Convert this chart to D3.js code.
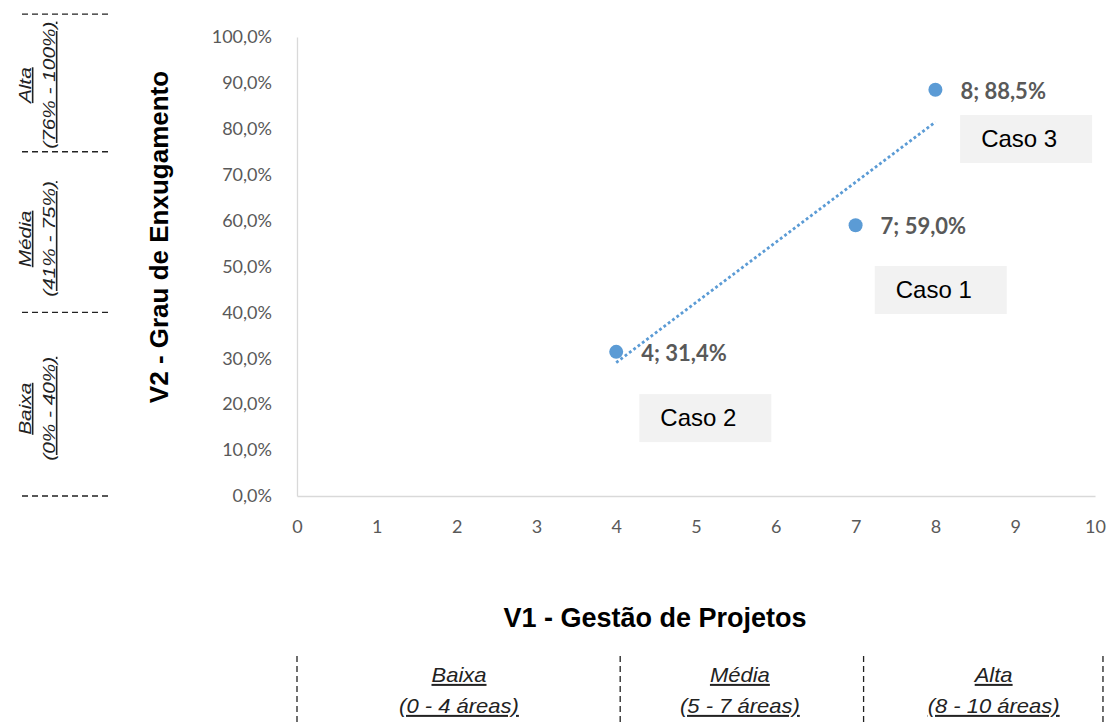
<!DOCTYPE html>
<html>
<head>
<meta charset="utf-8">
<script src="https://cdn.jsdelivr.net/npm/d3@7"></script>
<style>
  body { margin: 0; background: #fff; }
  svg { display: block; }
</style>
</head>
<body>
<svg id="chart"></svg>
<script>
// dados do gráfico
let xValues = [4, 7, 8];
let yValues = [0.314, 0.590, 0.885];
let pointLabels = ['4; 31,4%', '7; 59,0%', '8; 88,5%'];
let xTicks = [0, 1, 2, 3, 4, 5, 6, 7, 8, 9, 10];
let yTicks = [0, 0.1, 0.2, 0.3, 0.4, 0.5, 0.6, 0.7, 0.8, 0.9, 1.0];

// caixas "Caso" (canto superior esquerdo, em unidades do gráfico)
let casoLabels = ['Caso 1', 'Caso 2', 'Caso 3'];
let casoX = [7.24, 4.29, 8.31];
let casoY = [0.501, 0.222, 0.830];

// faixas do eixo V2 (esquerda)
let yBandEdges = [0, 0.40, 0.75, 1.05];
let yBandNames = ['Baixa', 'Média', 'Alta'];
let yBandRanges = ['(0% - 40%)', '(41% - 75%)', '(76% - 100%)'];
let yBandLabelAt = [0.19, 0.56, 0.895];

// faixas do eixo V1 (baixo)
let xBandEdges = [0, 4.05, 7.1, 10.1];
let xBandNames = ['Baixa', 'Média', 'Alta'];
let xBandRanges = ['(0 - 4 áreas)', '(5 - 7 áreas)', '(8 - 10 áreas)'];
let xBandLabelAt = [2.03, 5.55, 8.73];

let svgWidth = 1111, svgHeight = 724;
let plotLeft = 297, plotRight = 1095, plotTop = 37, plotBottom = 496;
let blue = '#5b9bd5';
let tickFont = 'Lato, "Open Sans", sans-serif';
let arial = '"Liberation Sans", Arial, sans-serif';

let svg = d3.select('#chart').attr('width', svgWidth).attr('height', svgHeight);
svg.append('rect').attr('width', svgWidth).attr('height', svgHeight).attr('fill', '#fff');

let x = d3.scaleLinear().domain([0, 10]).range([plotLeft, plotRight]);
let y = d3.scaleLinear().domain([0, 1]).range([plotBottom, plotTop]);
let pct = d => d3.format('.1f')(d * 100).replace('.', ',') + '%';

// eixo Y
let gy = svg.append('g').attr('transform', `translate(${plotLeft},0)`)
  .call(d3.axisLeft(y).tickValues(yTicks).tickSize(0).tickPadding(25).tickFormat(pct));
gy.select('.domain').attr('stroke', '#d9d9d9').attr('stroke-width', 1.3);
gy.selectAll('text').attr('font-family', tickFont).attr('font-size', 18).attr('fill', '#595959');

// eixo X
let gx = svg.append('g').attr('transform', `translate(0,${plotBottom})`)
  .call(d3.axisBottom(x).tickValues(xTicks).tickSize(0).tickPadding(24).tickFormat(d3.format('d')));
gx.select('.domain').attr('stroke', '#d9d9d9').attr('stroke-width', 1.3);
gx.selectAll('text').attr('font-family', tickFont).attr('font-size', 18).attr('fill', '#595959');

// linha de tendência (regressão linear)
let mx = d3.mean(xValues), my = d3.mean(yValues);
let sxy = d3.sum(xValues, (v, i) => (v - mx) * (yValues[i] - my));
let sxx = d3.sum(xValues, v => (v - mx) * (v - mx));
let slope = sxy / sxx, icpt = my - slope * mx;
let xExt = d3.extent(xValues);
svg.append('path')
  .datum(xExt.map(v => [v, icpt + slope * v]))
  .attr('fill', 'none')
  .attr('stroke', blue)
  .attr('stroke-width', 2.8)
  .attr('stroke-dasharray', '2.8,2.6')
  .attr('d', d3.line().x(d => x(d[0])).y(d => y(d[1])));

// pontos
svg.selectAll('circle.pt').data(xValues).enter().append('circle')
  .attr('class', 'pt')
  .attr('cx', d => x(d))
  .attr('cy', (d, i) => y(yValues[i]))
  .attr('r', 7)
  .attr('fill', blue);

svg.selectAll('text.lbl').data(pointLabels).enter().append('text')
  .attr('class', 'lbl')
  .attr('x', (d, i) => x(xValues[i]) + 25)
  .attr('y', (d, i) => y(yValues[i]) + 9)
  .attr('font-family', tickFont)
  .attr('font-weight', 'bold')
  .attr('font-size', 22)
  .attr('fill', '#595959')
  .text(d => d);

// caixas Caso
let caso = svg.selectAll('g.caso').data(casoLabels).enter().append('g')
  .attr('class', 'caso')
  .attr('transform', (d, i) => `translate(${x(casoX[i])},${y(casoY[i])})`);
caso.append('rect').attr('width', 132).attr('height', 48).attr('fill', '#f2f2f2');
caso.append('text').attr('x', 21).attr('y', 32)
  .attr('font-family', arial).attr('font-size', 24).attr('fill', '#000')
  .text(d => d);

// títulos
svg.append('text')
  .attr('transform', `translate(168,237) rotate(-90)`)
  .attr('text-anchor', 'middle')
  .attr('font-family', arial).attr('font-weight', 'bold').attr('font-size', 26)
  .attr('fill', '#000')
  .text('V2 - Grau de Enxugamento');

svg.append('text')
  .attr('x', 655).attr('y', 627)
  .attr('text-anchor', 'middle')
  .attr('font-family', arial).attr('font-weight', 'bold').attr('font-size', 27)
  .attr('fill', '#000')
  .text('V1 - Gestão de Projetos');

// faixas à esquerda
svg.selectAll('line.yband').data(yBandEdges).enter().append('line')
  .attr('class', 'yband')
  .attr('x1', 22).attr('x2', 112)
  .attr('y1', d => y(d)).attr('y2', d => y(d))
  .attr('stroke', '#222').attr('stroke-width', 1.3)
  .attr('stroke-dasharray', '6,4');

let yl = svg.selectAll('g.ylab').data(yBandNames).enter().append('g')
  .attr('class', 'ylab')
  .attr('transform', (d, i) => `translate(0,${y(yBandLabelAt[i])}) rotate(-90) scale(1.3,1)`)
  .attr('font-family', arial).attr('font-style', 'italic').attr('font-size', 16)
  .attr('fill', '#222').attr('text-anchor', 'middle')
  .attr('text-decoration', 'underline');
yl.append('text').attr('y', 31).text(d => d);
yl.append('text').attr('y', 55).text((d, i) => yBandRanges[i]);

// faixas em baixo
svg.selectAll('line.xband').data(xBandEdges).enter().append('line')
  .attr('class', 'xband')
  .attr('x1', d => x(d)).attr('x2', d => x(d))
  .attr('y1', 656).attr('y2', 724)
  .attr('stroke', '#222').attr('stroke-width', 1.3)
  .attr('stroke-dasharray', '6,4');

let xl = svg.selectAll('g.xlab').data(xBandNames).enter().append('g')
  .attr('class', 'xlab')
  .attr('transform', (d, i) => `translate(${x(xBandLabelAt[i])},0) scale(1.1,1)`)
  .attr('font-family', arial).attr('font-style', 'italic').attr('font-size', 20)
  .attr('fill', '#222').attr('text-anchor', 'middle')
  .attr('text-decoration', 'underline');
xl.append('text').attr('y', 682).text(d => d);
xl.append('text').attr('y', 713).text((d, i) => xBandRanges[i]);
</script>
</body>
</html>
